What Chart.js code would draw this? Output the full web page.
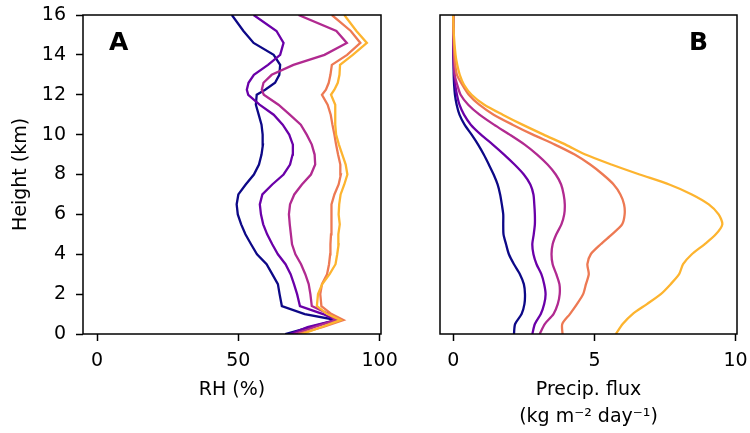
<!DOCTYPE html>
<html>
<head>
<meta charset="utf-8">
<script src="https://cdn.jsdelivr.net/npm/chart.js@4"></script>
<style>
  body { margin: 0; background: #fff; }
  #wrap { position: relative; width: 750px; height: 433px; }
  #rh-chart { position: absolute; left: 0; top: 0; }
  #flux-chart { position: absolute; left: 395px; top: 0; }
</style>
</head>
<body>
<div id="wrap">
  <canvas id="rh-chart" width="420" height="433"></canvas>
  <canvas id="flux-chart" width="355" height="433"></canvas>
</div>
<script>
// model levels (km) for the RH profiles
const heightsRH = [0, 0.35, 0.7, 1, 1.4, 2, 2.5, 3, 3.5, 4, 4.5, 5, 5.5, 6, 6.5, 7, 7.5, 8,
    8.5, 9, 9.5, 10, 10.5, 11, 11.5, 12, 12.25, 12.6, 13, 13.5, 14, 14.6, 15.2, 16]

// relative humidity (%), one profile per regime
const rh1 = [66.6, 75.5, 84.7, 73.5, 65.4, 64.6, 64.0, 62.0, 60.0, 56.6, 54.5, 52.5, 51.0, 49.8,
    49.4, 50.0, 52.6, 55.5, 57.3, 58.2, 58.7, 58.6, 58.2, 57.2, 56.2, 56.5, 59.5, 63.0, 64.5,
    64.8, 62.5, 55.4, 51.8, 47.7]
const rh2 = [68.4, 74.5, 84.5, 80.0, 71.8, 70.8, 69.7, 68.5, 66.7, 64.0, 62.0, 60.2, 58.8, 58.0,
    57.6, 58.5, 62.0, 66.0, 68.3, 69.2, 69.3, 68.0, 65.7, 62.5, 57.5, 53.5, 53.0, 53.6, 55.5,
    60.5, 64.8, 66.0, 63.5, 55.4]
const rh3 = [69.8, 77.0, 84.5, 82.0, 76.0, 75.5, 74.9, 73.7, 72.2, 70.2, 69.0, 68.6, 68.2, 67.9,
    68.3, 69.8, 72.5, 75.7, 77.2, 77.0, 76.0, 74.2, 72.1, 68.2, 64.2, 59.0, 58.3, 58.9, 61.8,
    69.5, 80.5, 88.4, 84.7, 71.3]
const rh4 = [71.2, 80.0, 87.2, 83.0, 79.4, 79.0, 79.6, 81.4, 82.1, 82.5, 82.6, 82.8, 82.9, 82.9,
    83.1, 84.0, 85.5, 86.3, 86.1, 85.3, 84.6, 84.0, 83.3, 82.7, 81.6, 79.6, 81.0, 82.0, 82.6,
    83.1, 88.5, 93.2, 89.8, 83.1]
const rh5 = [72.6, 79.5, 86.1, 81.5, 77.8, 78.2, 79.7, 82.3, 84.4, 85.0, 85.5, 85.4, 85.9, 85.5,
    85.7, 86.2, 87.5, 88.6, 88.0, 86.8, 85.6, 84.6, 84.3, 84.3, 84.3, 82.8, 84.0, 85.2, 85.8,
    86.0, 90.5, 95.5, 91.8, 87.5]

// levels (km) for the precipitation flux profiles
const heightsFlux = [0, 0.5, 1, 1.5, 2, 2.5, 3, 3.5, 4, 4.5, 5, 5.5, 6, 6.5, 7, 7.5, 8, 8.5,
    9, 9.5, 10, 10.5, 11, 11.5, 12, 12.5, 13, 13.5, 14, 15, 16]

// precipitation flux (kg m-2 day-1)
const flux1 = [2.15, 2.19, 2.42, 2.52, 2.54, 2.50, 2.36, 2.15, 1.97, 1.87, 1.78, 1.77, 1.77, 1.72,
    1.66, 1.57, 1.43, 1.26, 1.08, 0.88, 0.65, 0.40, 0.22, 0.12, 0.06, 0.03, 0.015, 0.01, 0, 0, 0]
const flux2 = [2.80, 2.89, 3.10, 3.22, 3.27, 3.22, 3.12, 2.95, 2.84, 2.80, 2.85, 2.89, 2.89, 2.87,
    2.84, 2.73, 2.50, 2.17, 1.80, 1.40, 0.98, 0.62, 0.38, 0.22, 0.13, 0.07, 0.04, 0.02, 0.01, 0, 0]
const flux3 = [3.06, 3.24, 3.55, 3.70, 3.77, 3.76, 3.65, 3.52, 3.48, 3.52, 3.65, 3.83, 3.93, 3.95,
    3.91, 3.82, 3.63, 3.34, 2.97, 2.53, 2.00, 1.44, 0.93, 0.53, 0.26, 0.14, 0.05, 0.03, 0.02, 0.01, 0]
const flux4 = [3.87, 3.86, 4.13, 4.38, 4.60, 4.70, 4.80, 4.75, 4.87, 5.22, 5.62, 5.98, 6.07, 6.05,
    5.92, 5.68, 5.30, 4.85, 4.30, 3.60, 2.82, 2.10, 1.43, 0.92, 0.55, 0.32, 0.13, 0.07, 0.04, 0.01, 0]
const flux5 = [5.76, 6.00, 6.35, 6.86, 7.35, 7.70, 8.00, 8.14, 8.45, 8.90, 9.30, 9.53, 9.40, 9.05,
    8.45, 7.65, 6.60, 5.60, 4.68, 3.98, 3.20, 2.45, 1.75, 1.10, 0.65, 0.38, 0.23, 0.14, 0.08, 0.02, 0]

const rhTicks = [0, 50, 100]
const fluxTicks = [0, 5, 10]
const heightTicks = [0, 2, 4, 6, 8, 10, 12, 14, 16]

const colors = ['#0d0887', '#6a00a8', '#b12a90', '#ed7953', '#fdb42f']

Chart.defaults.font.family = '"DejaVu Sans"'
Chart.defaults.font.size = 19
Chart.defaults.color = '#000'
Chart.defaults.animation = false

const toPoints = (xs, ys) => xs.map((x, i) => ({ x: x, y: ys[i] }))

const makeSets = (series, heights, tension) => series.map((values, i) => ({
    data: toPoints(values, heights),
    showLine: true,
    borderColor: colors[i],
    borderWidth: 2.3,
    pointRadius: 0,
    tension: tension,
    order: series.length - i
}))

// box around the plot area plus the panel letter
const frame = {
    id: 'frame',
    afterDraw(chart, args, opts) {
        const { ctx, chartArea } = chart
        ctx.save()
        ctx.strokeStyle = '#000'
        ctx.lineWidth = 1.5
        ctx.strokeRect(chartArea.left, chartArea.top,
            chartArea.right - chartArea.left, chartArea.bottom - chartArea.top)
        ctx.font = 'bold 25px "DejaVu Sans"'
        ctx.fillStyle = '#000'
        ctx.textBaseline = 'alphabetic'
        if (opts.align === 'right') {
            ctx.textAlign = 'right'
            ctx.fillText(opts.letter, chartArea.right - 29, chartArea.top + 35)
        } else {
            ctx.textAlign = 'left'
            ctx.fillText(opts.letter, chartArea.left + 26, chartArea.top + 35)
        }
        ctx.restore()
    }
}

// fixed axis sizes so the plot areas land in the same place every time
const fixX = s => {
    s.height = 99
    s.paddingLeft = 0
    s.paddingRight = 0
}
const fixY = s => {
    s.width = 83
    s.paddingTop = 0
    s.paddingBottom = 0
}

const tickGrid = {
    drawOnChartArea: false,
    drawTicks: true,
    tickLength: 7,
    tickWidth: 1.5,
    tickColor: '#000'
}

const titleFont = { size: 19, lineHeight: 1.4 }

new Chart(document.getElementById('rh-chart'), {
    type: 'scatter',
    data: { datasets: makeSets([rh1, rh2, rh3, rh4, rh5], heightsRH, 0) },
    options: {
        responsive: false,
        layout: { padding: { top: 15, right: 39, left: 0, bottom: 0 } },
        plugins: {
            legend: { display: false },
            tooltip: { enabled: false },
            frame: { letter: 'A', align: 'left' }
        },
        scales: {
            x: {
                type: 'linear',
                min: -5,
                max: 100.5,
                afterBuildTicks: s => { s.ticks = rhTicks.map(v => ({ value: v })) },
                afterFit: fixX,
                grid: tickGrid,
                border: { display: false },
                ticks: { padding: 9 },
                title: { display: true, text: 'RH (%)', font: titleFont, padding: { top: 0, bottom: 30 } }
            },
            y: {
                type: 'linear',
                min: 0,
                max: 16,
                afterBuildTicks: s => { s.ticks = heightTicks.map(v => ({ value: v })) },
                afterFit: fixY,
                grid: tickGrid,
                border: { display: false },
                ticks: { padding: 10 },
                title: { display: true, text: 'Height (km)', font: titleFont, padding: { top: 8, bottom: 0 } }
            }
        }
    },
    plugins: [frame]
})

new Chart(document.getElementById('flux-chart'), {
    type: 'scatter',
    data: { datasets: makeSets([flux1, flux2, flux3, flux4, flux5], heightsFlux, 0.25) },
    options: {
        responsive: false,
        layout: { padding: { top: 15, right: 13, left: 45, bottom: 0 } },
        plugins: {
            legend: { display: false },
            tooltip: { enabled: false },
            frame: { letter: 'B', align: 'right' }
        },
        scales: {
            x: {
                type: 'linear',
                min: -0.47,
                max: 10.05,
                afterBuildTicks: s => { s.ticks = fluxTicks.map(v => ({ value: v })) },
                afterFit: fixX,
                grid: tickGrid,
                border: { display: false },
                ticks: { padding: 9 },
                title: {
                    display: true,
                    text: ['Precip. flux', '(kg m\u207b\u00b2 day\u207b\u00b9)'],
                    font: titleFont,
                    padding: { top: 0, bottom: 3 }
                }
            },
            y: {
                type: 'linear',
                min: 0,
                max: 16,
                display: false
            }
        }
    },
    plugins: [frame]
})
</script>
</body>
</html>
